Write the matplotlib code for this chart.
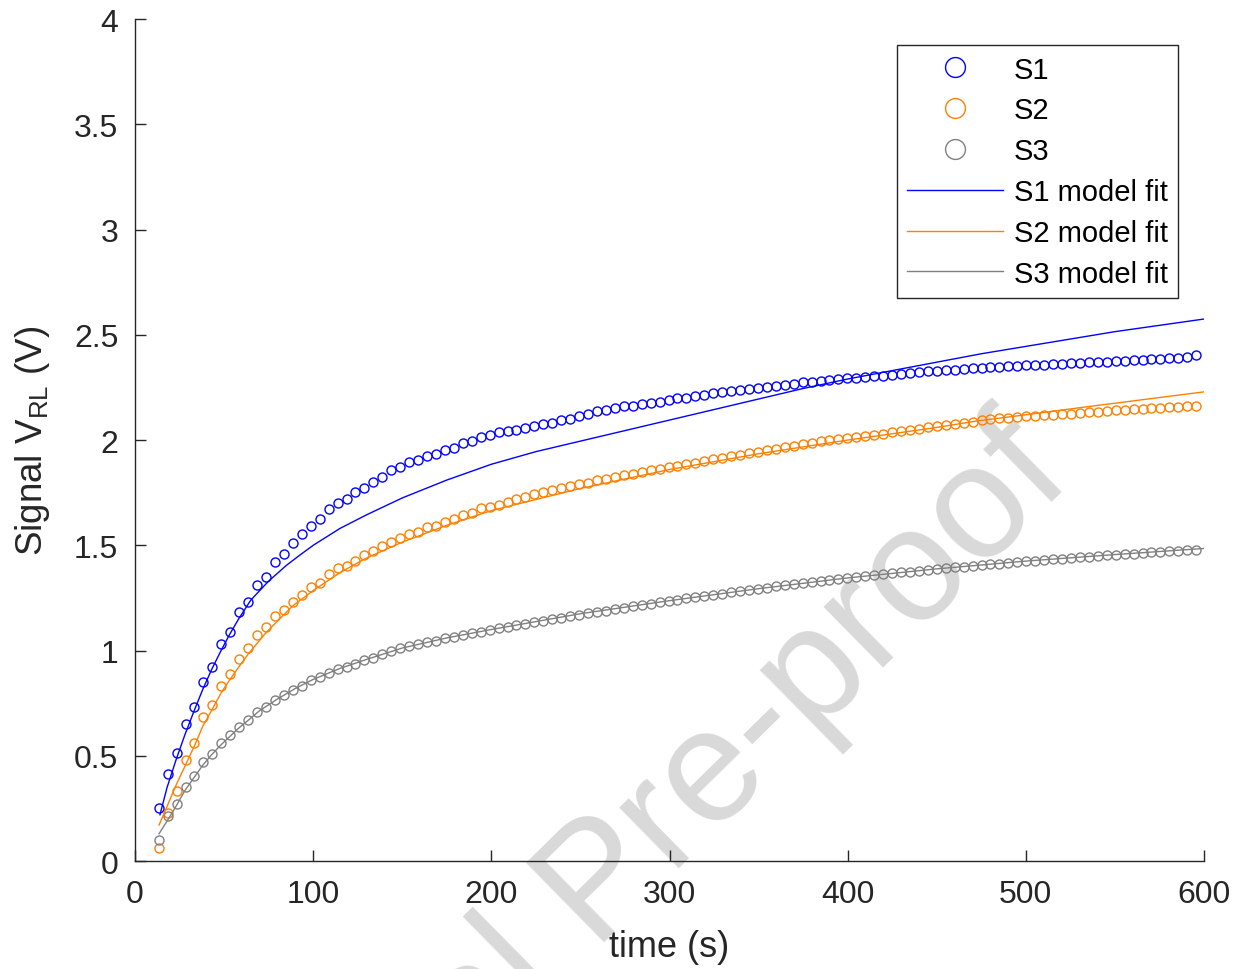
import numpy as np
import matplotlib
matplotlib.use('Agg')
import matplotlib.pyplot as plt

plt.rcParams['font.family'] = ['Liberation Sans', 'DejaVu Sans']
plt.rcParams['mathtext.fontset'] = 'custom'
plt.rcParams['mathtext.rm'] = 'Liberation Sans'
plt.rcParams['mathtext.it'] = 'Liberation Sans:italic'

# sample times of the measured signals (s)
time_data = np.linspace(13.3, 595.6, 117)

s1_data = [
    0.250, 0.412, 0.512, 0.649, 0.730, 0.852, 0.922, 1.030, 1.090, 1.181,
    1.232, 1.311, 1.349, 1.422, 1.460, 1.511, 1.552, 1.592, 1.623, 1.673,
    1.700, 1.722, 1.755, 1.773, 1.803, 1.825, 1.856, 1.872, 1.895, 1.905,
    1.922, 1.935, 1.952, 1.961, 1.986, 1.995, 2.013, 2.025, 2.037, 2.044,
    2.049, 2.057, 2.068, 2.076, 2.083, 2.094, 2.102, 2.115, 2.122, 2.138,
    2.145, 2.152, 2.160, 2.164, 2.171, 2.178, 2.182, 2.190, 2.198, 2.202,
    2.211, 2.215, 2.222, 2.226, 2.233, 2.236, 2.243, 2.248, 2.252, 2.258,
    2.263, 2.268, 2.274, 2.276, 2.281, 2.286, 2.288, 2.293, 2.297, 2.300,
    2.304, 2.306, 2.311, 2.314, 2.318, 2.322, 2.326, 2.329, 2.331, 2.334,
    2.337, 2.340, 2.342, 2.345, 2.348, 2.350, 2.352, 2.355, 2.356, 2.358,
    2.361, 2.362, 2.365, 2.367, 2.369, 2.371, 2.372, 2.374, 2.377, 2.378,
    2.381, 2.383, 2.386, 2.388, 2.390, 2.394, 2.402,
]

s2_data = [
    0.060, 0.228, 0.331, 0.482, 0.562, 0.683, 0.741, 0.833, 0.890, 0.962,
    1.012, 1.074, 1.110, 1.162, 1.193, 1.229, 1.264, 1.300, 1.323, 1.364,
    1.390, 1.404, 1.425, 1.456, 1.474, 1.496, 1.516, 1.533, 1.553, 1.561,
    1.585, 1.590, 1.612, 1.625, 1.644, 1.653, 1.675, 1.683, 1.691, 1.707,
    1.720, 1.728, 1.743, 1.754, 1.763, 1.770, 1.781, 1.789, 1.797, 1.808,
    1.815, 1.824, 1.832, 1.840, 1.848, 1.856, 1.862, 1.871, 1.877, 1.885,
    1.893, 1.900, 1.908, 1.916, 1.925, 1.931, 1.938, 1.944, 1.952, 1.958,
    1.966, 1.972, 1.981, 1.987, 1.995, 2.000, 2.005, 2.010, 2.015, 2.020,
    2.025, 2.031, 2.037, 2.042, 2.048, 2.053, 2.060, 2.066, 2.071, 2.076,
    2.082, 2.087, 2.093, 2.099, 2.103, 2.107, 2.109, 2.112, 2.115, 2.117,
    2.120, 2.123, 2.126, 2.129, 2.132, 2.135, 2.138, 2.141, 2.143, 2.146,
    2.149, 2.151, 2.154, 2.157, 2.159, 2.161, 2.164,
]

s3_data = [
    0.101, 0.214, 0.271, 0.350, 0.402, 0.469, 0.508, 0.561, 0.597, 0.639,
    0.671, 0.709, 0.730, 0.764, 0.791, 0.814, 0.832, 0.858, 0.873, 0.893,
    0.912, 0.920, 0.936, 0.955, 0.963, 0.983, 0.999, 1.010, 1.023, 1.030,
    1.042, 1.047, 1.058, 1.064, 1.074, 1.082, 1.089, 1.098, 1.106, 1.114,
    1.120, 1.128, 1.136, 1.142, 1.150, 1.156, 1.163, 1.171, 1.177, 1.184,
    1.190, 1.197, 1.204, 1.210, 1.216, 1.223, 1.229, 1.236, 1.242, 1.248,
    1.254, 1.260, 1.265, 1.271, 1.277, 1.283, 1.288, 1.294, 1.299, 1.305,
    1.310, 1.316, 1.321, 1.326, 1.331, 1.336, 1.340, 1.345, 1.350, 1.354,
    1.358, 1.363, 1.367, 1.371, 1.375, 1.379, 1.383, 1.387, 1.391, 1.395,
    1.399, 1.402, 1.406, 1.410, 1.413, 1.417, 1.420, 1.424, 1.427, 1.430,
    1.434, 1.437, 1.440, 1.443, 1.446, 1.449, 1.452, 1.455, 1.458, 1.461,
    1.464, 1.466, 1.469, 1.471, 1.474, 1.476, 1.479,
]

# model fit curves
s1_fit_t = [14, 18, 23, 28, 33, 38, 43, 48, 53, 58, 65, 75, 85, 92.6, 100,
            115, 130, 150, 175, 200, 225, 250, 275, 300, 325, 350, 375, 400,
            425, 450, 475, 500, 525, 550, 575, 600]
s1_fit = [0.220, 0.350, 0.480, 0.600, 0.710, 0.815, 0.910, 0.995, 1.075,
          1.148, 1.240, 1.330, 1.405, 1.454, 1.500, 1.580, 1.645, 1.725,
          1.810, 1.885, 1.945, 1.995, 2.045, 2.095, 2.145, 2.195, 2.245,
          2.290, 2.330, 2.370, 2.410, 2.445, 2.480, 2.515, 2.545, 2.575]

s2_fit_t = [13.5, 18, 23, 28, 33.4, 38, 43.4, 48.4, 53.5, 58.5, 63.5, 73.6,
            88.6, 100, 115, 130, 150, 175, 200, 250, 300, 350, 400, 450, 472,
            500, 536, 550, 600]
s2_fit = [0.171, 0.260, 0.360, 0.450, 0.548, 0.640, 0.722, 0.800, 0.865,
          0.925, 0.983, 1.086, 1.213, 1.285, 1.370, 1.440, 1.515, 1.595,
          1.665, 1.770, 1.860, 1.935, 2.000, 2.060, 2.090, 2.120, 2.160,
          2.175, 2.229]

s3_fit_t = [13.5, 18, 23, 28, 33, 38, 43, 48, 53, 58, 63, 70, 80, 90, 100,
            115, 130, 150, 175, 200, 250, 300, 350, 400, 450, 500, 550, 600]
s3_fit = [0.130, 0.190, 0.260, 0.335, 0.395, 0.455, 0.505, 0.550, 0.590,
          0.630, 0.665, 0.715, 0.770, 0.820, 0.863, 0.915, 0.958, 1.012,
          1.060, 1.100, 1.175, 1.237, 1.294, 1.345, 1.388, 1.425, 1.456,
          1.485]

series_labels = ['S1', 'S2', 'S3']
colors = ['#0000ff', '#ff8000', '#808080']
ink = '#262626'

fig = plt.figure(figsize=(12.41, 9.70), dpi=100)
ax = fig.add_axes([0.1088, 0.1113, 0.8614, 0.8680])
ax.patch.set_alpha(0)

# watermark behind the axes
fig.text(0.508, 0.055, 'Journal Pre-proof', rotation=44.5, rotation_mode='anchor',
         ha='center', va='baseline', fontsize=116, color='#d9d9d9', zorder=-1)

for y, c, lab in zip([s1_data, s2_data, s3_data], colors, series_labels):
    ax.plot(time_data, y, 'o', ms=6.5, mfc='none', mec=c, mew=1.0, label=lab)

fits = [(s1_fit_t, s1_fit), (s2_fit_t, s2_fit), (s3_fit_t, s3_fit)]
for (ft, fv), c, lab in zip(fits, colors, series_labels):
    ax.plot(ft, fv, '-', color=c, lw=1.0, label=lab + ' model fit')

ax.set_xlim(0, 600)
ax.set_ylim(0, 4)
ax.set_xticks(np.arange(0, 601, 100))
ax.set_yticks(np.arange(0, 4.01, 0.5))
ax.set_yticklabels(['0', '0.5', '1', '1.5', '2', '2.5', '3', '3.5', '4'])
for side in ['top', 'right']:
    ax.spines[side].set_visible(False)
for side in ['left', 'bottom']:
    ax.spines[side].set_color(ink)
    ax.spines[side].set_linewidth(1.0)
ax.tick_params(direction='in', length=8, width=1.0, colors=ink, labelsize=23)
ax.tick_params(axis='x', pad=13)
ax.tick_params(axis='y', pad=12)

ax.set_xlabel('time (s)', fontsize=26, color=ink, labelpad=14)
ax.set_ylabel('Signal V$_{\\mathrm{RL}}$ (V)', fontsize=26.5, color=ink, labelpad=16)

leg = ax.legend(loc='upper right', fontsize=21, frameon=True, fancybox=False,
                edgecolor=ink, framealpha=1, markerscale=2.2, handlelength=3.3,
                handletextpad=0.35, labelspacing=0.44, borderpad=0.35,
                borderaxespad=0.9)
leg.get_frame().set_linewidth(1.0)
for txt in leg.get_texts():
    txt.set_color('black')

fig.savefig('out.png', dpi=100)
